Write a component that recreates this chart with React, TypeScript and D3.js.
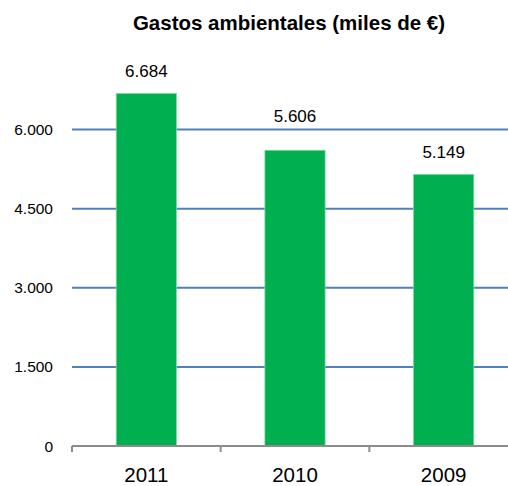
import React from "react";
import * as d3 from "d3";

const categories = ["2011", "2010", "2009"];
const values = [6684, 5606, 5149];
const yTicks = [0, 1500, 3000, 4500, 6000];
const title = "Gastos ambientales (miles de €)";

const W = 508;
const H = 486;
const fmt = (v: number) => d3.format(",")(v).replace(/,/g, ".");

export default function App() {
  const x = d3.scaleBand<string>().domain(categories).range([72, 518]).paddingInner(0.595).paddingOuter(0.2975);
  const y = d3.scaleLinear().domain([0, 6000]).range([446, 129.5]);
  const font = "'Liberation Sans', Arial, sans-serif";
  const gridYs = yTicks.filter((t) => t > 0).map((t) => y(t));

  const labelY = (v: number) => {
    let base = y(v) - 16;
    const top = base - 13;
    for (const g of gridYs) {
      if (g >= top - 1 && g <= base + 2) base = g - 8;
    }
    return base;
  };

  return (
    <svg width={W} height={H} style={{ position: "absolute", left: 0, top: 0, background: "#fff" }}>
      <text x={289} y={30} textAnchor="middle" fontFamily={font} fontWeight="bold" fontSize={20.5} fill="#000">
        {title}
      </text>
      {yTicks.map((t) => (
        <g key={t}>
          {t > 0 && <line x1={72} x2={W} y1={y(t)} y2={y(t)} stroke="#4F81BD" strokeWidth={2} />}
          <text x={53} y={y(t) + 5.5} textAnchor="end" fontFamily={font} fontSize={15.5} fill="#000">
            {fmt(t)}
          </text>
        </g>
      ))}
      {categories.map((c, i) => (
        <g key={c}>
          <rect
            x={x(c)!}
            y={y(values[i])}
            width={x.bandwidth()}
            height={y(0) - y(values[i])}
            fill="#00B050"
            stroke="#7FD8A0"
            strokeWidth={0.8}
          />
          <text x={x(c)! + x.bandwidth() / 2} y={labelY(values[i])} textAnchor="middle" fontFamily={font} fontSize={17} fill="#000">
            {fmt(values[i])}
          </text>
          <text x={x(c)! + x.bandwidth() / 2} y={482} textAnchor="middle" fontFamily={font} fontSize={20.5} fill="#000">
            {c}
          </text>
        </g>
      ))}
      <line x1={72} x2={W} y1={y(0)} y2={y(0)} stroke="#8C8C8C" strokeWidth={2} />
      {[0, 1, 2, 3].map((i) => {
        const bx = 72 + i * x.step();
        return <line key={i} x1={bx} x2={bx} y1={y(0)} y2={y(0) + 6} stroke="#8C8C8C" strokeWidth={2} />;
      })}
    </svg>
  );
}
